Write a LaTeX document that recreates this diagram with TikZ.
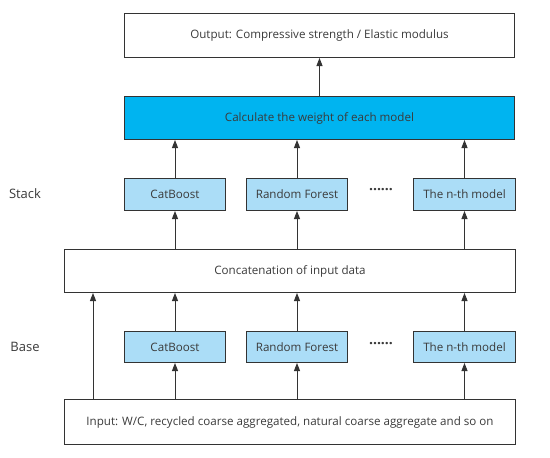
\documentclass[tikz,border=0pt]{standalone}
\usepackage{fontspec}
\setmainfont{Open Sans}
\usetikzlibrary{arrows.meta}
\definecolor{lightb}{HTML}{ABDDF7}
\definecolor{calcb}{HTML}{00B4F0}
\definecolor{edge}{HTML}{333333}
\definecolor{txt}{HTML}{3A3A3A}
\begin{document}
\begin{tikzpicture}[x=1pt,y=-1pt,
  box/.style={draw=edge,line width=1pt,inner sep=0pt,anchor=north west,font=\fontsize{11.6}{13}\selectfont,text=txt},
  arr/.style={draw=edge,line width=1pt,-{Triangle[length=8pt,width=6pt]}},
  lbl/.style={font=\fontsize{13}{15}\selectfont,text=txt},
  dots/.style={font=\fontsize{14}{15}\selectfont\bfseries,text=txt}]
\useasboundingbox (0,0) rectangle (550,458);
\node[box,minimum width=390pt,minimum height=44pt] (out) at (124,13) {Output: Compressive strength / Elastic modulus};
\node[box,fill=calcb,minimum width=390pt,minimum height=43pt] (calc) at (124,96) {Calculate the weight of each model};
\node[box,fill=lightb,minimum width=101pt,minimum height=32pt] (s1) at (124,178) {CatBoost};
\node[box,fill=lightb,minimum width=101pt,minimum height=32pt] (s2) at (246,178) {Random Forest};
\node[box,fill=lightb,minimum width=102pt,minimum height=32pt] (s3) at (413,178) {The n-th model};
\node[box,minimum width=451pt,minimum height=43pt] (cat) at (64,249) {Concatenation of input data};
\node[box,fill=lightb,minimum width=101pt,minimum height=31pt] (b1) at (124,331) {CatBoost};
\node[box,fill=lightb,minimum width=101pt,minimum height=31pt] (b2) at (246,331) {Random Forest};
\node[box,fill=lightb,minimum width=102pt,minimum height=31pt] (b3) at (413,331) {The n-th model};
\node[box,minimum width=451pt,minimum height=45pt] (in) at (64,399) {Input: W/C, recycled coarse aggregated, natural coarse aggregate and so on};
\node[lbl] (stk) at (25,194) {Stack};
\node[lbl] (bas) at (25,347) {Base};
\node[dots] (d1) at (381,191) {······};
\node[dots] (d2) at (381,345) {······};
\draw[arr] (calc.north) -- (out.south);
\draw[arr] (s1.north) -- (s1.north |- calc.south);
\draw[arr] (s2.north) -- (s2.north |- calc.south);
\draw[arr] (s3.north) -- (s3.north |- calc.south);
\draw[arr] (s1.south |- cat.north) -- (s1.south);
\draw[arr] (s2.south |- cat.north) -- (s2.south);
\draw[arr] (s3.south |- cat.north) -- (s3.south);
\draw[arr] (b1.north) -- (b1.north |- cat.south);
\draw[arr] (b2.north) -- (b2.north |- cat.south);
\draw[arr] (b3.north) -- (b3.north |- cat.south);
\draw[arr] (b1.south |- in.north) -- (b1.south);
\draw[arr] (b2.south |- in.north) -- (b2.south);
\draw[arr] (b3.south |- in.north) -- (b3.south);
\coordinate (lx) at (93,0);
\draw[arr] (lx |- in.north) -- (lx |- cat.south);
\end{tikzpicture}
\end{document}
